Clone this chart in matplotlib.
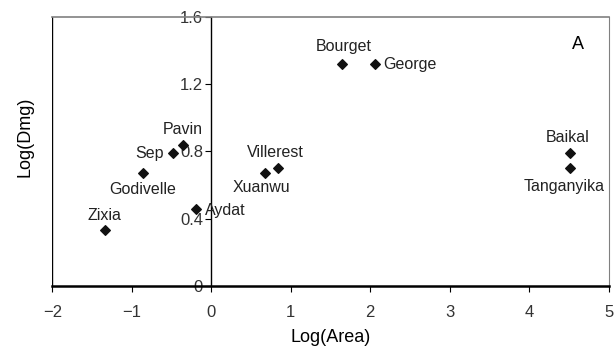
import matplotlib
matplotlib.use('Agg')
import matplotlib.pyplot as plt

plt.rcParams['font.family'] = ['Liberation Sans', 'DejaVu Sans']

# lakes: log(area) vs log(Dmg)
lakes = ['Zixia', 'Godivelle', 'Sep', 'Pavin', 'Aydat', 'Xuanwu', 'Villerest',
         'Bourget', 'George', 'Baikal', 'Tanganyika']
log_area = [-1.34, -0.86, -0.48, -0.36, -0.19, 0.68, 0.84, 1.65, 2.06, 4.51, 4.51]
log_dmg = [0.33, 0.67, 0.79, 0.84, 0.46, 0.67, 0.70, 1.32, 1.32, 0.79, 0.70]

# label offsets (points) and horizontal alignment
offs = {'Zixia': (0, 11, 'center'),
        'Godivelle': (0, -12, 'center'),
        'Sep': (-7, 0, 'right'),
        'Pavin': (0, 11, 'center'),
        'Aydat': (6.5, -1.5, 'left'),
        'Xuanwu': (-3, -10, 'center'),
        'Villerest': (-2, 11.5, 'center'),
        'Bourget': (0.7, 13, 'center'),
        'George': (6, -0.5, 'left'),
        'Baikal': (-1.5, 11, 'center'),
        'Tanganyika': (-4, -13, 'center')}

fig, ax = plt.subplots(figsize=(6.16, 3.47), dpi=100)
fig.subplots_adjust(left=0.085, right=0.988, top=0.951, bottom=0.176)

ax.scatter(log_area, log_dmg, marker='D', s=24, color='#111111', zorder=3)
for name, x, y in zip(lakes, log_area, log_dmg):
    dx, dy, ha = offs[name]
    ax.annotate(name, (x, y), xytext=(dx, dy), textcoords='offset points',
                ha=ha, va='center', fontsize=11.5, color='#222222')

ax.text(0.945, 0.896, 'A', transform=ax.transAxes, fontsize=13, ha='center', va='center')

ax.set_xlim(-2, 5)
ax.set_ylim(0, 1.6)
ax.set_xticks([-2, -1, 0, 1, 2, 3, 4, 5])
ax.set_xticklabels(['\u22122', '\u22121', '0', '1', '2', '3', '4', '5'])
ax.set_yticks([0, 0.4, 0.8, 1.2, 1.6])
ax.set_yticklabels(['0', '0.4', '0.8', '1.2', '1.6'])

ax.spines['left'].set_position(('data', 0))
ax.spines['left'].set_linewidth(1.0)
ax.spines['bottom'].set_linewidth(1.8)
ax.spines['top'].set_color('#808080')
ax.spines['right'].set_color('#808080')
ax.spines['top'].set_linewidth(1.2)
ax.axvline(-2, color='black', lw=1.0)

ax.tick_params(axis='both', labelsize=12, labelcolor='#333333', direction='out', length=4)
ax.tick_params(axis='x', pad=9.5)
ax.tick_params(axis='y', pad=2)

ax.set_xlabel('Log(Area)', fontsize=13, labelpad=6.5)
fig.text(25 / 616, 1 - 137 / 347, 'Log(Dmg)', fontsize=13, rotation=90,
         ha='center', va='center')

fig.savefig('out.png', dpi=100)
